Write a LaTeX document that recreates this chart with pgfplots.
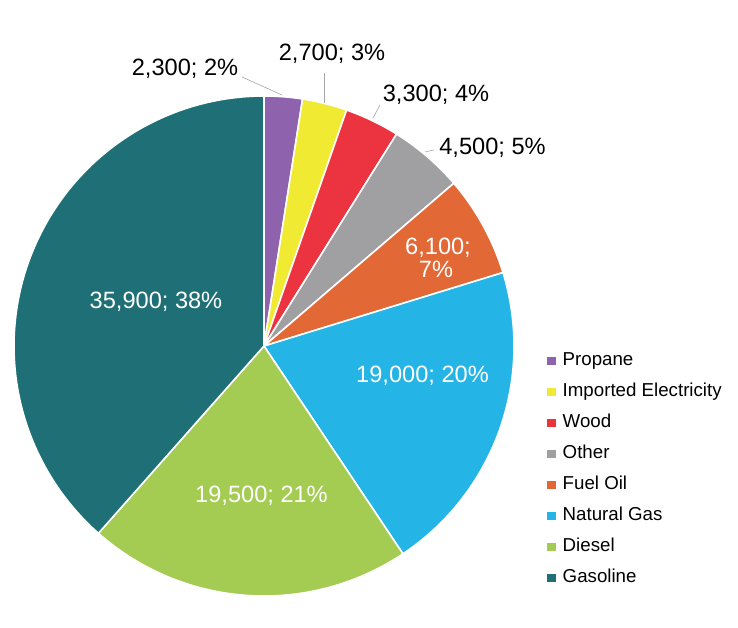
\documentclass[border=0pt]{standalone}
\usepackage{pgfplots}
\pgfplotsset{compat=1.18}
\usepackage{fontspec}
\setmainfont{Liberation Sans}

\definecolor{cPropane}{RGB}{142,98,172}
\definecolor{cElec}{RGB}{240,234,50}
\definecolor{cWood}{RGB}{236,52,64}
\definecolor{cOther}{RGB}{160,160,162}
\definecolor{cFuel}{RGB}{226,104,54}
\definecolor{cGas}{RGB}{36,180,230}
\definecolor{cDiesel}{RGB}{164,204,82}
\definecolor{cGasoline}{RGB}{30,112,118}

% total of all slices
\def\pietotal{93300}
\gdef\cumul{0}
\newcommand\pieslice[2]{% #1 value, #2 colour
  \xdef\angA{\fpeval{90-360*\cumul/\pietotal}}%
  \xdef\cumul{\fpeval{\cumul+#1}}%
  \xdef\angB{\fpeval{90-360*\cumul/\pietotal}}%
  \xdef\nseg{\fpeval{max(2,ceil(abs(\angA-\angB)))}}%
  \gdef\pts{(0,0)}%
  \foreach \i in {0,...,\nseg}{%
    \xdef\ang{\fpeval{\angA+(\angB-\angA)*\i/\nseg}}%
    \xdef\pts{\pts (\fpeval{250*cosd(\ang)},\fpeval{250*sind(\ang)})}%
  }%
  \edef\tmp{\noexpand\addplot[fill=#2, draw=white, line width=1.6pt, line join=round] coordinates {\pts (0,0)};}%
  \tmp
}

\begin{document}
\begin{tikzpicture}
\begin{axis}[
  width=738pt, height=628pt, scale only axis,
  xmin=-264, xmax=474, ymin=-282, ymax=346,
  hide axis, clip=false,
  legend image code/.code={\fill[#1, draw=none] (0pt,-4pt) rectangle (8.5pt,4pt);},
  legend style={
    at={(axis cs:283,-6)}, anchor=north west,
    draw=none, fill=none, inner sep=0pt,
    font=\fontsize{18.7}{21}\selectfont,
    row sep=14pt, column sep=7pt,
    nodes={inner sep=0pt, text height=13pt, text depth=4pt, anchor=west},
  },
  legend cell align=left,
]
\pieslice{2300}{cPropane}
\addlegendentry{Propane}
\pieslice{2700}{cElec}
\addlegendentry{Imported Electricity}
\pieslice{3300}{cWood}
\addlegendentry{Wood}
\pieslice{4500}{cOther}
\addlegendentry{Other}
\pieslice{6100}{cFuel}
\addlegendentry{Fuel Oil}
\pieslice{19000}{cGas}
\addlegendentry{Natural Gas}
\pieslice{19500}{cDiesel}
\addlegendentry{Diesel}
\pieslice{35900}{cGasoline}
\addlegendentry{Gasoline}

% leader lines
\addplot[forget plot, gray!70, line width=0.6pt] coordinates {(-22,269) (18,251)};
\addplot[forget plot, gray!70, line width=0.6pt] coordinates {(60,273) (60,243)};
\addplot[forget plot, gray!70, line width=0.6pt] coordinates {(116,241) (109,228)};
\addplot[forget plot, gray!70, line width=0.6pt] coordinates {(161,194) (170,196)};

% labels
\begin{scope}[font=\fontsize{23.6}{23.6}\selectfont]
\node[anchor=base, fill=white, inner sep=1pt] at (axis cs:-79,270) {2,300; 2\%};
\node[anchor=base, fill=white, inner sep=1pt] at (axis cs:68,285) {2,700; 3\%};
\node[anchor=base, fill=white, inner sep=1pt] at (axis cs:172,244.5) {3,300; 4\%};
\node[anchor=base, fill=white, inner sep=1pt] at (axis cs:228.5,191) {4,500; 5\%};
\node[anchor=base, text=white, align=center] at (axis cs:174,91) {6,100;};
\node[anchor=base, text=white, align=center] at (axis cs:172,68) {7\%};
\node[anchor=base, text=white] at (axis cs:158.5,-37) {19,000; 20\%};
\node[anchor=base, text=white] at (axis cs:-2.5,-157) {19,500; 21\%};
\node[anchor=base, text=white] at (axis cs:-108,37) {35,900; 38\%};
\end{scope}
\end{axis}
\pgfresetboundingbox
\useasboundingbox (current axis.south west) rectangle (current axis.north east);
\end{tikzpicture}
\end{document}
